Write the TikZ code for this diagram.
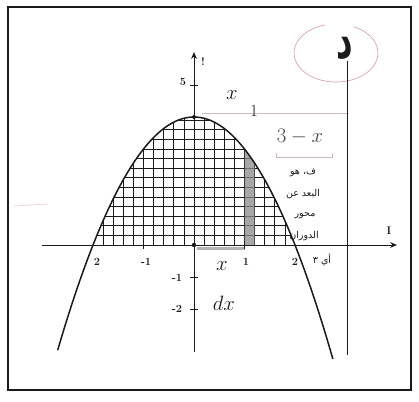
\documentclass[tikz,border=0pt]{standalone}
\usepackage{fontspec}
\newfontfamily\arabicfont[Script=Arabic]{DejaVu Sans}
\TeXXeTstate=1
\usetikzlibrary{arrows.meta}
\definecolor{ink}{HTML}{1A1A1A}
\definecolor{pen}{HTML}{D6A3B2}
\definecolor{faint}{HTML}{CDB9C0}
\definecolor{shade}{HTML}{8A8A8A}
\tikzset{
  >={Stealth[length=2.4mm,width=2mm]},
  curve/.style={draw=ink,line width=1.5pt},
  axis/.style={draw=ink,line width=1pt},
  hatch/.style={draw=ink,line width=0.65pt},
  strip/.style={fill=shade,opacity=0.75},
  tick/.style={font=\bfseries\fontsize{11}{12}\selectfont,text=ink,inner sep=1pt},
  hand/.style={font=\fontsize{21}{22}\selectfont,text=ink,inner sep=1pt},
  arab/.style={font=\arabicfont\fontsize{9.5}{10}\selectfont,text=ink,inner sep=0.5pt},
  guide/.style={draw=faint,line width=0.7pt},
}
\begin{document}
\begin{tikzpicture}[x=1pt,y=-1pt]
\useasboundingbox (0,0) rectangle (419,401);
\draw[draw=ink,line width=2.6pt] (8,7) rectangle (411,390);
% graph, one unit = 50.5px across, 32px up
\begin{scope}[shift={(194,245)},x=50.5pt,y=32pt]
\begin{scope}
\clip (-2,0) -- plot[domain=-2:2,samples=60] (\x,{4-\x*\x}) -- cycle;
\draw[hatch] (-2,0) grid[xstep=0.2,ystep=0.3] (2,4.2);
\end{scope}
\fill[strip] (1,0) -- plot[domain=1:1.2,samples=10] (\x,{4-\x*\x}) -- (1.2,0) -- cycle;
\draw[shade,line width=3pt,opacity=0.3] (0.05,-0.1) -- (1,-0.1);
\draw[guide] (0.15,4.12) -- (3.03,4.12);
\draw[axis,->] (-3.01,0) -- (4.02,0);
\draw[axis,->] (0,-3.35) -- (0,6.03);
\foreach \t in {-2,-1,5} \draw[axis,line width=0.7pt] (-0.07,\t) -- (0.07,\t);
\foreach \t in {-1,1} \draw[axis,line width=0.7pt] (\t,-0.12) -- (\t,0.12);
\draw[curve] plot[domain=-2.7:2.75,samples=80] (\x,{4-\x*\x});
\fill[ink] (0,4) circle (2pt);
\fill[ink] (0,0) circle (2.2pt);
\coordinate (foot) at (3.03,-3.44);
\end{scope}
% part letter with its pink ring
\draw[pen,line width=0.7pt] (336,53) ++(-65:42 and 29) arc[start angle=-65,end angle=255,x radius=42,y radius=29];
\node[font=\arabicfont\bfseries\fontsize{38}{38}\selectfont,text=ink,inner sep=0pt] (dal) at (345,49) {\scalebox{0.85}[1.35]{د}};
\draw[axis] (dal.south -| foot) -- (foot);
% labels
\node[tick] (ylab) at (203,62) {!};
\node[tick] (xlab) at (389,231) {I};
\node[tick] (y5) at (183,82) {5};
\node[tick] (ym1) at (177,278) {-1};
\node[tick] (ym2) at (177,309) {-2};
\node[tick] (xm2) at (97,262) {2};
\node[tick] (xm1) at (146,262) {-1};
\node[tick] (x1) at (246,262) {1};
\node[tick] (x2) at (295,262) {2};
\node[hand] (xpos) at (222,266) {$x$};
\node[hand] (dx) at (224,303) {$dx$};
\node[hand] (xtop) at (232,95) {$x$};
\node[hand,font=\fontsize{17}{18}\selectfont] (onetop) at (254,111) {1};
\node[hand,text=ink!80] (rad) at (300,137) {$3-x$};
\draw[guide] (276,153) -- (276,157) -- (332,157) -- (332,153);
\node[arab] (a1) at (303,173) {\beginR ف، هو\endR};
\node[arab] (a2) at (303,194) {\beginR البعد عن\endR};
\node[arab] (a3) at (305,216) {\beginR محور\endR};
\node[arab] (a4) at (304,236) {\beginR الدوران\endR};
\node[arab] (a5) at (322,260) {\beginR أي ٣\endR};
\draw[pen,line width=0.6pt,opacity=0.6] (14,206) -- (48,204);
\end{tikzpicture}
\end{document}
